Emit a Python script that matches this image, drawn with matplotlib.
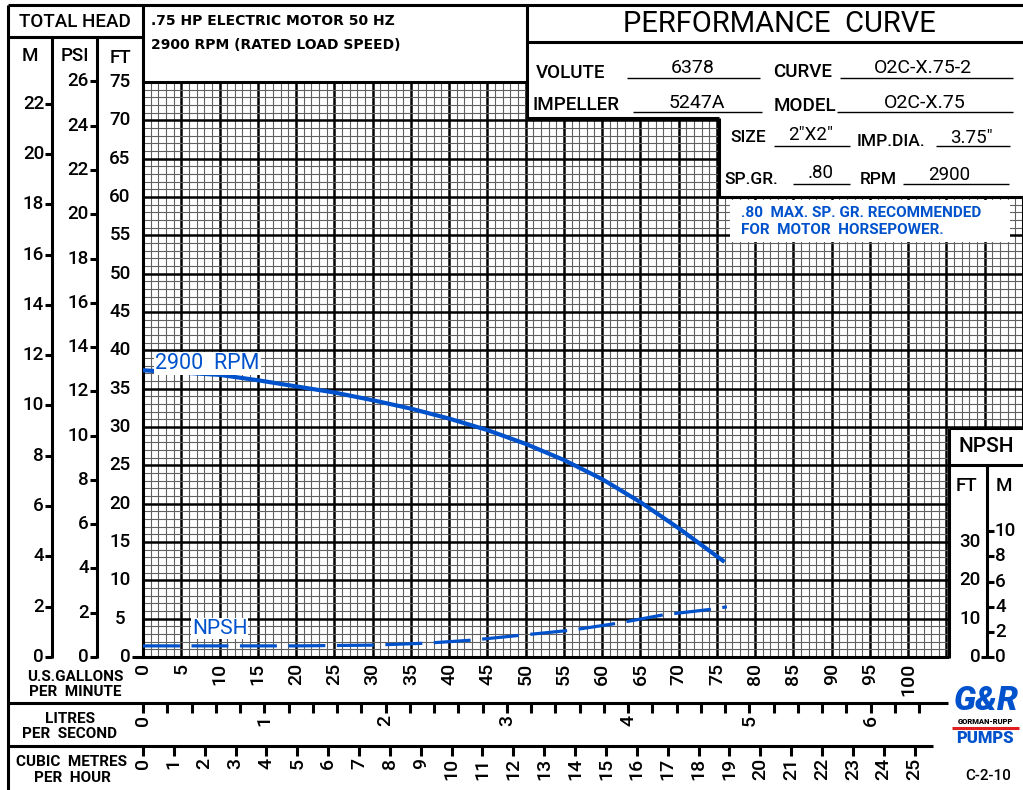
import matplotlib
matplotlib.use('Agg')
import matplotlib.pyplot as plt
import matplotlib.transforms as mtrans
from matplotlib.patches import Rectangle
import numpy as np

plt.rcParams['font.family'] = ['Roboto', 'DejaVu Sans']

# ---------------- data ----------------
GPM_HEAD = [0, 5, 10, 15, 20, 25, 30, 35, 40, 45, 50, 55, 60, 65, 70, 76]
HEAD_FT = [37.4, 37.1, 36.8, 36.1, 35.3, 34.5, 33.5, 32.4, 31.1, 29.6, 27.8, 25.7, 23.2, 20.2, 16.8, 12.4]

GPM_NPSH = [0, 20, 30, 37, 43, 49, 56, 62, 68, 74.5, 76.3]
NPSH_FT = [2.9, 2.9, 3.1, 3.6, 4.4, 5.6, 7.0, 8.8, 11.0, 12.5, 13.1]

GPM_TICKS = list(range(0, 101, 5))
FT_TICKS = list(range(0, 76, 5))
M_TICKS = list(range(0, 23, 2))
PSI_TICKS = list(range(0, 27, 2))
LPS_LABELS = list(range(0, 7))
M3H_LABELS = list(range(0, 26))
NPSH_FT_TICKS = [0, 10, 20, 30]
NPSH_M_TICKS = [0, 2, 4, 6, 8, 10]

FT_PER_M = 3.2808
FT_PER_PSI = 2.31 / 0.80      # psi scale at sp.gr. 0.80
GPM_PER_LPS = 15.85
GPM_PER_M3H = 4.033            # spacing as drawn on the chart
NPSH_SCALE = 0.5               # NPSH feet -> chart head feet

BLUE = '#0052CC'
NUM = 13.5                     # size of scale numbers

# ---------------- figure ----------------
W, H = 1023, 790
fig = plt.figure(figsize=(W / 100, H / 100), dpi=100)
fig.patch.set_facecolor('white')

PX_PER_GPM = 7.655
X0, Y0, YTOP, XR = 143, 657, 82, 1023
ax = fig.add_axes([X0 / W, 1 - Y0 / H, (XR - X0) / W, (Y0 - YTOP) / H])
ax.set_xlim(0, (XR - X0) / PX_PER_GPM)
ax.set_ylim(0, 75)
ax.set_xticks(np.arange(0, 116, 5))
ax.set_xticks(np.arange(0, 116, 1), minor=True)
ax.set_yticks(np.arange(0, 76, 5))
ax.set_yticks(np.arange(0, 76, 1), minor=True)
ax.grid(True, which='minor', color='#606060', lw=0.8)
ax.grid(True, which='major', color='black', lw=1.8)
ax.tick_params(which='both', length=0, labelbottom=False, labelleft=False)
for s in ax.spines.values():
    s.set_linewidth(2.2)

# curves
ax.plot(GPM_HEAD, HEAD_FT, color=BLUE, lw=3.0, solid_capstyle='butt', zorder=3)
lw_n = 2.3
ax.plot(GPM_NPSH, np.array(NPSH_FT) * NPSH_SCALE, color=BLUE, lw=lw_n,
        linestyle=(0, (26.6 / lw_n, 8.3 / lw_n)), zorder=3)
ax.text(8.45, 38.3, '2900  RPM', color=BLUE, fontsize=15.5, ha='center', va='center', zorder=4,
        bbox=dict(boxstyle='square,pad=0.05', fc='white', ec='none'))
ax.text(10.0, 3.7, 'NPSH', color=BLUE, fontsize=15, ha='center', va='center', zorder=4,
        bbox=dict(boxstyle='square,pad=0.05', fc='white', ec='none'))

# ---------------- overlay in pixel coordinates ----------------
ov = fig.add_axes([0, 0, 1, 1], zorder=5)
ov.set_xlim(0, W)
ov.set_ylim(H, 0)
ov.axis('off')
ov.patch.set_alpha(0)

LW = 2.2
def hl(y, x1, x2, lw=LW, color='k', tr=None):
    ov.plot([x1, x2], [y, y], color=color, lw=lw, solid_capstyle='butt',
            transform=tr if tr is not None else ov.transData, clip_on=False)
def vl(x, y1, y2, lw=LW, color='k', tr=None):
    ov.plot([x, x], [y1, y2], color=color, lw=lw, solid_capstyle='butt',
            transform=tr if tr is not None else ov.transData, clip_on=False)
def wrect(x1, y1, x2, y2):
    ov.add_patch(Rectangle((x1, y1), x2 - x1, y2 - y1, fc='white', ec='none', zorder=0.5))
def txt(x, y, s, size=13, ha='center', va='center', **kw):
    ov.text(x, y, s, fontsize=size, ha=ha, va=va, **kw)

# white boxes over grid
wrect(527, 42, 1023, 118)
wrect(719, 118, 1023, 197)
wrect(730, 200, 1010, 242)
wrect(949, 428, 1023, 790)

# frame lines
hl(5, 8, 1023)
vl(8, 5, 790)
hl(37, 8, 143)
vl(143, 5, 82)
vl(527, 5, 118)
hl(42, 527, 1023)
hl(118, 527, 719)
vl(719, 118, 197)
hl(197, 719, 1023)
vl(52, 37, 657.5)
vl(97, 37, 657.5)
hl(703, 8, 948)
hl(746, 8, 933)
hl(428, 949, 1023)
hl(465, 949, 1023)
vl(949, 428, 658)
vl(987, 465, 658)

# header texts
txt(75, 22, 'TOTAL HEAD', 13.5, weight='medium')
txt(30, 56, 'M', 13.5, weight='medium')
txt(75, 56, 'PSI', 13.5, weight='medium')
txt(120, 58, 'FT', 13.5, weight='medium')
txt(151, 21, '.75 HP ELECTRIC MOTOR 50 HZ', 10, ha='left', weight='bold', family='DejaVu Sans')
txt(151, 45, '2900 RPM (RATED LOAD SPEED)', 10, ha='left', weight='bold', family='DejaVu Sans')
txt(779, 24, 'PERFORMANCE  CURVE', 21)

UL = 1.0
txt(536, 73, 'VOLUTE', 13.5, ha='left', weight='medium')
hl(78, 627, 760, lw=UL)
txt(693, 68, '6378', 14)
txt(773, 72, 'CURVE', 13.5, ha='left', weight='medium')
hl(78, 840, 1013, lw=UL)
txt(923, 68, 'O2C-X.75-2', 14)
txt(533, 105, 'IMPELLER', 13.5, ha='left', weight='medium')
hl(112, 633, 762, lw=UL)
txt(697, 103, '5247A', 14)
txt(774, 106, 'MODEL', 13.5, ha='left', weight='medium')
hl(112, 837, 1013, lw=UL)
txt(925, 103, 'O2C-X.75', 14)
txt(730, 138, 'SIZE', 12.5, ha='left', weight='medium')
hl(146, 774, 850, lw=UL)
txt(811, 135, '2"X2"', 13.5)
txt(857, 142, 'IMP.DIA.', 12.5, ha='left', weight='medium')
hl(146, 936, 1010, lw=UL)
txt(971, 138, '3.75"', 13.5)
txt(724, 179, 'SP.GR.', 12.5, ha='left', weight='medium')
hl(184, 793, 850, lw=UL)
txt(821, 173, '.80', 13.5)
txt(860, 179, 'RPM', 12.5, ha='left', weight='medium')
hl(184, 903, 1009, lw=UL)
txt(949, 175, '2900', 13.5)

txt(741, 213, '.80  MAX. SP. GR. RECOMMENDED', 11, ha='left', color=BLUE, weight='bold')
txt(741, 230, 'FOR  MOTOR  HORSEPOWER.', 11, ha='left', color=BLUE, weight='bold')

# left scales (x in px, y in head feet)
tr_left = mtrans.blended_transform_factory(ov.transData, ax.transData)
for m in M_TICKS:
    y = m * FT_PER_M
    hl(y, 45, 52, tr=tr_left)
    ov.text(44, y, str(m), fontsize=NUM, ha='right', va='center', transform=tr_left, weight='medium')
for p in PSI_TICKS:
    y = p * FT_PER_PSI
    hl(y, 90, 97, tr=tr_left)
    ov.text(89, y, str(p), fontsize=NUM, ha='right', va='center', transform=tr_left, weight='medium')
for f in FT_TICKS:
    if f == 0:
        hl(0, 132, 143, tr=tr_left)
        ov.text(131, 0, '0', fontsize=NUM, ha='right', va='center', transform=tr_left, weight='medium')
    else:
        ov.text(120, f, str(f), fontsize=NUM, ha='center', va='center', transform=tr_left, weight='medium')

# NPSH scale on the right
for f in NPSH_FT_TICKS:
    y = f * NPSH_SCALE
    ov.text(981, y, str(f), fontsize=NUM, ha='right', va='center', transform=tr_left, weight='medium')
hl(0, 981, 987, tr=tr_left)
for m in NPSH_M_TICKS:
    y = m * FT_PER_M * NPSH_SCALE
    hl(y, 987, 994, tr=tr_left)
    ov.text(995, y, str(m), fontsize=NUM, ha='left', va='center', transform=tr_left, weight='medium')
txt(986, 447, 'NPSH', 15, weight='medium')
txt(966, 486, 'FT', 13.5, weight='medium')
txt(1004, 486, 'M', 13.5, weight='medium')

# bottom scales (x in gpm, y in px)
tr_bot = mtrans.blended_transform_factory(ax.transData, ov.transData)
for g in GPM_TICKS:
    ov.text(g, 663, str(g), fontsize=14, rotation=90, ha='center', va='top', transform=tr_bot, weight='medium')
for i in range(0, 33):
    x = i * 0.2 * GPM_PER_LPS
    vl(x, 703, 713, tr=tr_bot)
for v in LPS_LABELS:
    ov.text(v * GPM_PER_LPS, 715, str(v), fontsize=14, rotation=90, ha='center', va='top', transform=tr_bot, weight='medium')
for v in M3H_LABELS:
    x = v * GPM_PER_M3H
    vl(x, 746, 756, tr=tr_bot)
    ov.text(x, 758, str(v), fontsize=14, rotation=90, ha='center', va='top', transform=tr_bot, weight='medium')

txt(75, 677, 'U.S.GALLONS', 11, weight='bold')
txt(75, 692, 'PER  MINUTE', 11, weight='bold')
txt(70, 719, 'LITRES', 11, weight='bold')
txt(70, 734, 'PER  SECOND', 11, weight='bold')
txt(72, 762, 'CUBIC  METRES', 11, weight='bold')
txt(72, 778, 'PER  HOUR', 11, weight='bold')

# logo
txt(986, 701, 'G&R', 24, color=BLUE, weight='black', style='italic')
txt(985, 721, 'GORMAN-RUPP', 5.5, color='black', weight='black')
hl(727.5, 952, 1019, lw=2.2, color='#E02020')
txt(985, 738, 'PUMPS', 12, color=BLUE, weight='black')
txt(988, 776, 'C-2-10', 11, weight='medium')

fig.savefig('out.png', dpi=100)
